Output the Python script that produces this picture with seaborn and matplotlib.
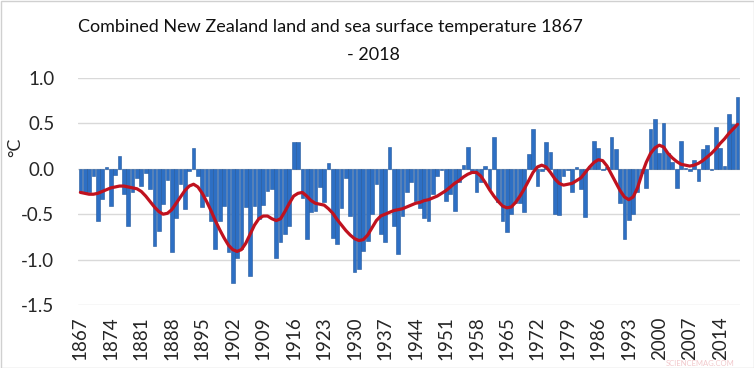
import numpy as np
import pandas as pd
import matplotlib
matplotlib.use("Agg")
import matplotlib.pyplot as plt
import seaborn as sns
from matplotlib.patches import Rectangle

# annual anomalies (°C), 1867-2018
years = list(range(1867, 2019))
anomaly = [
    -0.26, -0.27, -0.25, -0.08, -0.57, -0.33, 0.02, -0.41, -0.07, 0.14,
    -0.28, -0.63, -0.26, -0.10, -0.19, -0.05, -0.22, -0.85, -0.68, -0.39,
    -0.12, -0.92, -0.54, -0.17, -0.44, -0.02, 0.23, -0.08, -0.42, -0.30,
    -0.57, -0.88, -0.57, -0.41, -0.92, -1.26, -0.98, -0.88, -0.42, -1.18,
    -0.41, -0.55, -0.40, -0.24, -0.22, -0.98, -0.81, -0.72, -0.63, 0.30,
    0.30, -0.32, -0.77, -0.48, -0.46, -0.20, -0.37, 0.06, -0.76, -0.83,
    -0.43, -0.10, -0.52, -1.14, -1.10, -0.90, -0.79, -0.50, -0.17, -0.72,
    -0.81, 0.24, -0.63, -0.94, -0.52, -0.26, -0.15, -0.35, -0.43, -0.54,
    -0.57, -0.28, -0.08, -0.01, -0.35, -0.28, -0.47, -0.15, 0.04, 0.24,
    -0.05, -0.26, -0.15, 0.03, -0.22, 0.35, -0.37, -0.57, -0.70, -0.50,
    -0.38, -0.38, -0.48, 0.16, 0.44, -0.19, -0.02, 0.29, 0.19, -0.50,
    -0.51, -0.08, -0.01, -0.26, 0.02, -0.22, -0.53, 0.03, 0.31, 0.23,
    -0.01, 0.02, 0.35, 0.22, -0.38, -0.77, -0.56, -0.50, -0.25, -0.05,
    -0.21, 0.44, 0.55, 0.17, 0.50, 0.17, 0.07, -0.21, 0.31, 0.01,
    -0.02, 0.10, -0.13, 0.22, 0.26, -0.01, 0.46, 0.23, 0.03, 0.60, 0.49, 0.79,
]
# smoothed trend (red line)
trend = [
    -0.26, -0.27, -0.28, -0.28, -0.27, -0.25, -0.23, -0.21, -0.20, -0.19,
    -0.19, -0.20, -0.21, -0.22, -0.25, -0.30, -0.36, -0.42, -0.47, -0.50,
    -0.49, -0.45, -0.38, -0.31, -0.24, -0.19, -0.17, -0.20, -0.27, -0.36,
    -0.46, -0.57, -0.67, -0.76, -0.84, -0.89, -0.91, -0.89, -0.82, -0.72,
    -0.62, -0.55, -0.52, -0.52, -0.55, -0.57, -0.55, -0.47, -0.38, -0.30,
    -0.27, -0.26, -0.30, -0.35, -0.38, -0.39, -0.40, -0.44, -0.49, -0.56,
    -0.62, -0.68, -0.73, -0.77, -0.79, -0.78, -0.73, -0.65, -0.57, -0.52,
    -0.50, -0.48, -0.46, -0.45, -0.44, -0.42, -0.40, -0.38, -0.37, -0.35,
    -0.34, -0.32, -0.30, -0.27, -0.24, -0.20, -0.16, -0.13, -0.09, -0.06,
    -0.04, -0.04, -0.08, -0.15, -0.23, -0.30, -0.36, -0.41, -0.43, -0.42,
    -0.37, -0.30, -0.22, -0.13, -0.04, 0.02, 0.04, 0.02, -0.04, -0.11,
    -0.16, -0.18, -0.17, -0.16, -0.13, -0.10, -0.04, 0.02, 0.07, 0.10,
    0.09, 0.03, -0.06, -0.15, -0.24, -0.31, -0.34, -0.31, -0.21, -0.06,
    0.07, 0.17, 0.23, 0.26, 0.24, 0.17, 0.12, 0.08, 0.05, 0.04,
    0.03, 0.04, 0.06, 0.09, 0.13, 0.17, 0.22, 0.28, 0.33, 0.39, 0.44, 0.49,
]
y_ticks = [1.0, 0.5, 0.0, -0.5, -1.0, -1.5]

df = pd.DataFrame({"Year": [str(y) for y in years], "Anomaly": anomaly,
                   "pos": np.arange(len(years)), "Trend": trend})

sns.set_theme(style="white")
plt.rcParams["font.family"] = ["Lato", "DejaVu Sans"]

fig = plt.figure(figsize=(7.54, 3.68), dpi=100)
ax = fig.add_axes([78 / 754, 63 / 368, 662 / 754, 227 / 368])

sns.barplot(data=df, x="Year", y="Anomaly", color="#2d6fc4", saturation=1,
            width=0.85, edgecolor="#22579a", linewidth=0.4, ax=ax)
sns.lineplot(data=df, x="pos", y="Trend", color="#c0121f", linewidth=2.3, ax=ax)

ax.set_xlim(-0.55, len(years) - 0.45)
ax.set_ylim(-1.5, 1.0)
ax.set_yticks(y_ticks)
ax.set_yticklabels([f"{t:.1f}" for t in y_ticks], fontsize=13.5)
ax.set_xticks(np.arange(0, len(years), 7))
ax.set_xticklabels([str(y) for y in years[::7]], rotation=90, fontsize=13.5)
ax.tick_params(axis="y", length=0, pad=17)
ax.tick_params(axis="x", length=0, pad=8)
ax.yaxis.grid(True, color="#d9d9d9", linewidth=1)
ax.set_axisbelow(True)
for s in ax.spines.values():
    s.set_visible(False)
ax.set_xlabel("")
ax.set_ylabel("")

fig.text(15 / 754, 1 - 147 / 368, "°C", rotation=90, ha="center", va="center", fontsize=13)
fig.text(78 / 754, 1 - 27 / 368, "Combined New Zealand land and sea surface temperature 1867",
         ha="left", va="center", fontsize=13, color="#111111")
fig.text(373 / 754, 1 - 55 / 368, "- 2018", ha="center", va="center", fontsize=13, color="#111111")
# faint watermark in the bottom-right corner
fig.text(700 / 754, 1.5 / 368, "SCIENCEMAG.COM", ha="center", va="bottom",
         fontsize=5.5, color="#f2c9cc")

fig.add_artist(Rectangle((0.5 / 754, 0.5 / 368), 1 - 1 / 754, 1 - 1 / 368,
                         transform=fig.transFigure, fill=False,
                         edgecolor="#d0d0d0", linewidth=1))

fig.savefig("out.png", dpi=100)
plt.close(fig)
